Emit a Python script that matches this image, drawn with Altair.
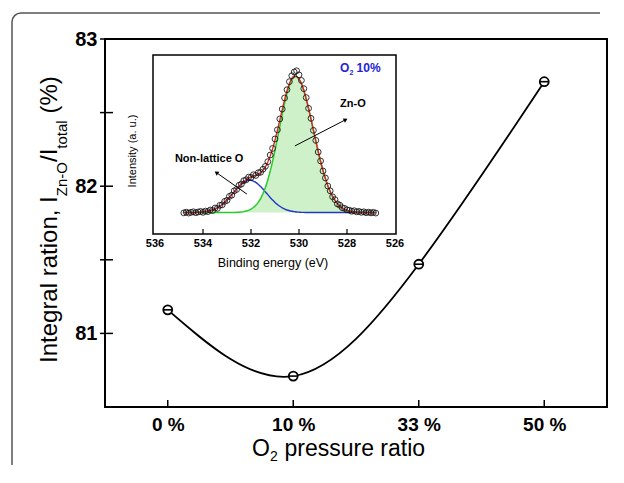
import altair as alt
import pandas as pd

FONT = "Liberation Sans"

# ---------------- main panel data ----------------
ratios = ["0 %", "10 %", "33 %", "50 %"]
integral_ratio = [81.16, 80.71, 81.47, 82.71]
y_major = [81, 82, 83]
y_minor = [81.5, 82.5]

# ---------------- inset (XPS O 1s, O2 10%) ----------------
energy = [534.8, 534.7, 534.6, 534.5, 534.4, 534.3, 534.2, 534.1, 534.0,
          533.9, 533.8, 533.7, 533.6, 533.5, 533.4, 533.3, 533.2, 533.1, 533.0,
          532.9, 532.8, 532.7, 532.6, 532.5, 532.4, 532.3, 532.2, 532.1, 532.0,
          531.9, 531.8, 531.7, 531.6, 531.5, 531.4, 531.3, 531.2, 531.1, 531.0,
          530.9, 530.8, 530.7, 530.6, 530.5, 530.4, 530.3, 530.2, 530.1, 530.0,
          529.9, 529.8, 529.7, 529.6, 529.5, 529.4, 529.3, 529.2, 529.1, 529.0,
          528.9, 528.8, 528.7, 528.6, 528.5, 528.4, 528.3, 528.2, 528.1, 528.0,
          527.9, 527.8, 527.7, 527.6, 527.5, 527.4, 527.3, 527.2, 527.1, 527.0,
          526.9, 526.8]
measured = [0.118, 0.122, 0.117, 0.121, 0.124, 0.119, 0.123, 0.126, 0.121,
            0.128, 0.125, 0.134, 0.131, 0.145, 0.143, 0.160, 0.163, 0.182, 0.188,
            0.210, 0.217, 0.241, 0.249, 0.272, 0.279, 0.298, 0.303, 0.318, 0.316,
            0.331, 0.327, 0.342, 0.345, 0.362, 0.378, 0.404, 0.441, 0.478, 0.531,
            0.582, 0.643, 0.698, 0.760, 0.806, 0.851, 0.884, 0.905, 0.912, 0.889,
            0.858, 0.812, 0.762, 0.702, 0.646, 0.579, 0.523, 0.458, 0.408, 0.352,
            0.313, 0.268, 0.241, 0.208, 0.192, 0.168, 0.161, 0.147, 0.143, 0.135,
            0.133, 0.127, 0.130, 0.124, 0.126, 0.121, 0.124, 0.119, 0.122, 0.118,
            0.121, 0.117]
fit_total = [0.120, 0.120, 0.120, 0.120, 0.120, 0.121, 0.121, 0.122, 0.123,
             0.125, 0.127, 0.130, 0.134, 0.140, 0.146, 0.155, 0.165, 0.176, 0.190,
             0.204, 0.220, 0.235, 0.252, 0.267, 0.281, 0.293, 0.304, 0.312, 0.319,
             0.324, 0.328, 0.335, 0.343, 0.357, 0.375, 0.402, 0.435, 0.476, 0.524,
             0.579, 0.636, 0.694, 0.751, 0.800, 0.840, 0.869, 0.883, 0.881, 0.867,
             0.840, 0.803, 0.755, 0.701, 0.642, 0.581, 0.520, 0.461, 0.405, 0.355,
             0.310, 0.270, 0.237, 0.210, 0.188, 0.170, 0.156, 0.146, 0.138, 0.132,
             0.128, 0.126, 0.124, 0.122, 0.121, 0.121, 0.120, 0.120, 0.120, 0.120,
             0.120, 0.120]
fit_nonlattice = [0.120, 0.120, 0.120, 0.120, 0.120, 0.121, 0.121, 0.122, 0.123,
                  0.125, 0.127, 0.130, 0.134, 0.140, 0.146, 0.155, 0.165, 0.176, 0.190,
                  0.204, 0.220, 0.235, 0.251, 0.265, 0.278, 0.288, 0.296, 0.300, 0.300,
                  0.296, 0.288, 0.278, 0.265, 0.251, 0.235, 0.220, 0.204, 0.190, 0.176,
                  0.165, 0.155, 0.146, 0.140, 0.134, 0.130, 0.127, 0.125, 0.123, 0.122,
                  0.121, 0.121, 0.120, 0.120, 0.120, 0.120, 0.120, 0.120, 0.120, 0.120,
                  0.120, 0.120, 0.120, 0.120, 0.120, 0.120, 0.120, 0.120, 0.120, 0.120,
                  0.120, 0.120, 0.120, 0.120, 0.120, 0.120, 0.120, 0.120, 0.120, 0.120,
                  0.120, 0.120]
fit_zno = [0.120, 0.120, 0.120, 0.120, 0.120, 0.120, 0.120, 0.120, 0.120,
           0.120, 0.120, 0.120, 0.120, 0.120, 0.120, 0.120, 0.120, 0.120, 0.120,
           0.120, 0.120, 0.120, 0.121, 0.122, 0.123, 0.125, 0.128, 0.132, 0.139,
           0.148, 0.160, 0.177, 0.198, 0.226, 0.260, 0.302, 0.351, 0.406, 0.468,
           0.534, 0.601, 0.668, 0.731, 0.786, 0.830, 0.862, 0.878, 0.878, 0.865,
           0.839, 0.802, 0.755, 0.701, 0.642, 0.581, 0.520, 0.461, 0.405, 0.355,
           0.310, 0.270, 0.237, 0.210, 0.188, 0.170, 0.156, 0.146, 0.138, 0.132,
           0.128, 0.126, 0.124, 0.122, 0.121, 0.121, 0.120, 0.120, 0.120, 0.120,
           0.120, 0.120]
inset_baseline = 0.12
inset_ticks = [534, 532, 530, 528]
inset_tick_labels = [536, 534, 532, 530, 528, 526]

blank = alt.Data(values=[{}])

# ---------------- main panel ----------------
main_df = pd.DataFrame({"ratio": ratios, "value": integral_ratio})
xtick_df = pd.DataFrame({"ratio": ratios})
ytick_df = pd.DataFrame({"value": y_major + y_minor})

xaxis = alt.Axis(title=None, labelFontSize=19, labelFontWeight="bold", labelFont=FONT,
                 labelColor="black", ticks=False, domain=False, grid=False,
                 labelAngle=0, labelPadding=8)
yaxis = alt.Axis(title=None, values=y_major, labelFontSize=20, labelFontWeight="bold",
                 labelFont=FONT, labelColor="black", ticks=False, domain=False,
                 grid=False, labelPadding=8)
xs = alt.Scale(type="point", padding=0.5, domain=ratios)
ys = alt.Scale(domain=[80.5, 83], nice=False, zero=False)

X = alt.X("ratio:O", scale=xs, axis=xaxis, sort=ratios)
Y = alt.Y("value:Q", scale=ys, axis=yaxis)

# outer rounded panel border (left and top edges with a rounded corner)
FRAME_C = "#555555"
border_left = alt.Chart(blank).mark_rule(color=FRAME_C, strokeWidth=1.5).encode(
    x=alt.value(-93), y=alt.value(-17), y2=alt.value(426))
border_top = alt.Chart(blank).mark_rule(color=FRAME_C, strokeWidth=1.5).encode(
    y=alt.value(-26), x=alt.value(-84), x2=alt.value(495))
border_corner = alt.Chart(blank).mark_arc(
    color=FRAME_C, innerRadius=8.25, outerRadius=9.75
).encode(x=alt.value(-84), y=alt.value(-17), theta=alt.value(4.7124),
         theta2=alt.value(6.2832))

curve = alt.Chart(main_df).mark_line(
    interpolate="natural", color="black", strokeWidth=1.8
).encode(x=X, y=Y)

markers = alt.Chart(main_df).mark_point(
    shape="circle", size=80, filled=True, fill="white", stroke="black",
    strokeWidth=1.8, opacity=1
).encode(x=X, y=Y)

bars = alt.Chart(main_df).mark_point(
    shape="stroke", size=70, color="black", strokeWidth=1.6, opacity=1
).encode(x=X, y=Y)

xticks = alt.Chart(xtick_df).mark_rule(color="black", strokeWidth=1.5).encode(
    x=X, y=alt.value(361), y2=alt.value(368))
yticks = alt.Chart(ytick_df).mark_rule(color="black", strokeWidth=1.5).encode(
    y=Y, x=alt.value(-5), x2=alt.value(8))


def txt(text, x, y, size, angle=0, weight="normal", color="black", align="left",
        baseline="alphabetic"):
    return alt.Chart(blank).mark_text(
        text=text, font=FONT, fontSize=size, fontWeight=weight, color=color,
        align=align, baseline=baseline, angle=angle
    ).encode(x=alt.value(x), y=alt.value(y))


# y title with subscripts (rotated)
ytitle = [
    txt("Integral ration, I", -48, 324, 24, angle=270),
    txt("Zn-O", -38, 157.2, 15, angle=270),
    txt("/I", -48, 123.0, 24, angle=270),
    txt("total", -38, 109.7, 15, angle=270),
    txt("(%)", -48, 74.6, 24, angle=270),
]
# x title with subscript
xtitle = [
    txt("O", 147, 417, 23),
    txt("2", 165, 422, 14),
    txt("pressure ratio", 179.5, 417, 23),
]

main = alt.layer(border_left, border_top, border_corner, curve, markers, bars,
                 xticks, yticks, *ytitle, *xtitle)

# ---------------- inset ----------------
inset_df = pd.DataFrame({
    "E": energy, "measured": measured, "fit": fit_total,
    "nonlattice": fit_nonlattice, "zno": fit_zno,
})
ixs = alt.Scale(domain=[526, 536], range=[290, 50], nice=False, zero=False)
iys = alt.Scale(domain=[0, 1], range=[195, 16], nice=False, zero=False)
IX = alt.X("E:Q", scale=ixs, axis=None)

frame = alt.Chart(blank).mark_rect(fill="white", stroke="black", strokeWidth=1.5).encode(
    x=alt.value(48), x2=alt.value(291), y=alt.value(16), y2=alt.value(195))

zno_area = alt.Chart(inset_df).mark_area(color="#c9f0c4", opacity=0.9).encode(
    x=IX, y=alt.Y("zno:Q", scale=iys, axis=None), y2=alt.datum(inset_baseline))

blue_line = alt.Chart(inset_df).mark_line(color="#2236c8", strokeWidth=1.4,
                                          interpolate="monotone").encode(
    x=IX, y=alt.Y("nonlattice:Q", scale=iys, axis=None))
green_line = alt.Chart(inset_df).mark_line(color="#27cc27", strokeWidth=1.5,
                                           interpolate="monotone").encode(
    x=IX, y=alt.Y("zno:Q", scale=iys, axis=None))
red_line = alt.Chart(inset_df).mark_line(color="#e02828", strokeWidth=1.4,
                                         interpolate="monotone").encode(
    x=IX, y=alt.Y("fit:Q", scale=iys, axis=None))

circles = alt.Chart(inset_df).mark_point(
    shape="circle", size=34, filled=False, color="#111111", strokeWidth=1, opacity=0.85
).encode(x=IX, y=alt.Y("measured:Q", scale=iys, axis=None))

itick_df = pd.DataFrame({"E": inset_ticks})
ilab_df = pd.DataFrame({"E": inset_tick_labels})
iticks = alt.Chart(itick_df).mark_rule(color="black", strokeWidth=1.2).encode(
    x=IX, y=alt.value(190), y2=alt.value(195))
ilabels = alt.Chart(ilab_df).mark_text(
    font=FONT, fontSize=11, fontWeight="bold", baseline="middle", color="black"
).encode(x=IX, y=alt.value(205), text="E:Q")


def itxt(text, e, v, size, weight="bold", color="black", dx=0, dy=0):
    return alt.Chart(blank).mark_text(
        text=text, font=FONT, fontSize=size, fontWeight=weight, color=color,
        align="left", baseline="alphabetic", dx=dx, dy=dy
    ).encode(x=alt.X(datum=e, type="quantitative", scale=ixs, axis=None),
             y=alt.Y(datum=v, type="quantitative", scale=iys, axis=None))


def arrow(e1, v1, e2, v2, ang):
    line = alt.Chart(blank).mark_rule(color="black", strokeWidth=1).encode(
        x=alt.X(datum=e1, type="quantitative", scale=ixs, axis=None),
        y=alt.Y(datum=v1, type="quantitative", scale=iys, axis=None),
        x2=alt.datum(e2), y2=alt.datum(v2))
    head = alt.Chart(blank).mark_point(
        shape="triangle", angle=ang, filled=True, color="black", size=22, opacity=1
    ).encode(x=alt.X(datum=e2, type="quantitative", scale=ixs, axis=None),
             y=alt.Y(datum=v2, type="quantitative", scale=iys, axis=None))
    return [line, head]


inset_texts = [
    itxt("O", 528.29, 0.905, 12, color="#2424d4"),
    itxt("2", 528.29, 0.905, 7, color="#2424d4", dx=9.5, dy=3),
    itxt("10%", 528.29, 0.905, 12, color="#2424d4", dx=16.5),
    itxt("Zn-O", 528.29, 0.711, 11),
    itxt("Non-lattice O", 535.17, 0.404, 11),
]
arrows = arrow(530.17, 0.492, 528.08, 0.637, 62.5) + arrow(532.17, 0.223, 533.42, 0.341, 305)

ixtitle = txt("Binding energy (eV)", 168, 224, 12.5, align="center", baseline="middle")
iytitle = txt("Intensity (a. u.)", 28, 112, 11, angle=270, align="center", baseline="middle")

inset = alt.layer(frame, zno_area, blue_line, green_line, red_line, circles,
                  iticks, ilabels, *inset_texts, *arrows, ixtitle, iytitle)

chart = alt.layer(main, inset).resolve_scale(
    x="independent", y="independent"
).properties(
    width=502, height=368,
    padding={"left": 97, "top": 31, "right": 8, "bottom": 58},
    autosize=alt.AutoSizeParams(type="none"),
).configure_view(stroke="black", strokeWidth=2)

chart.save("out.html", embed_options={"renderer": "svg", "actions": False})
